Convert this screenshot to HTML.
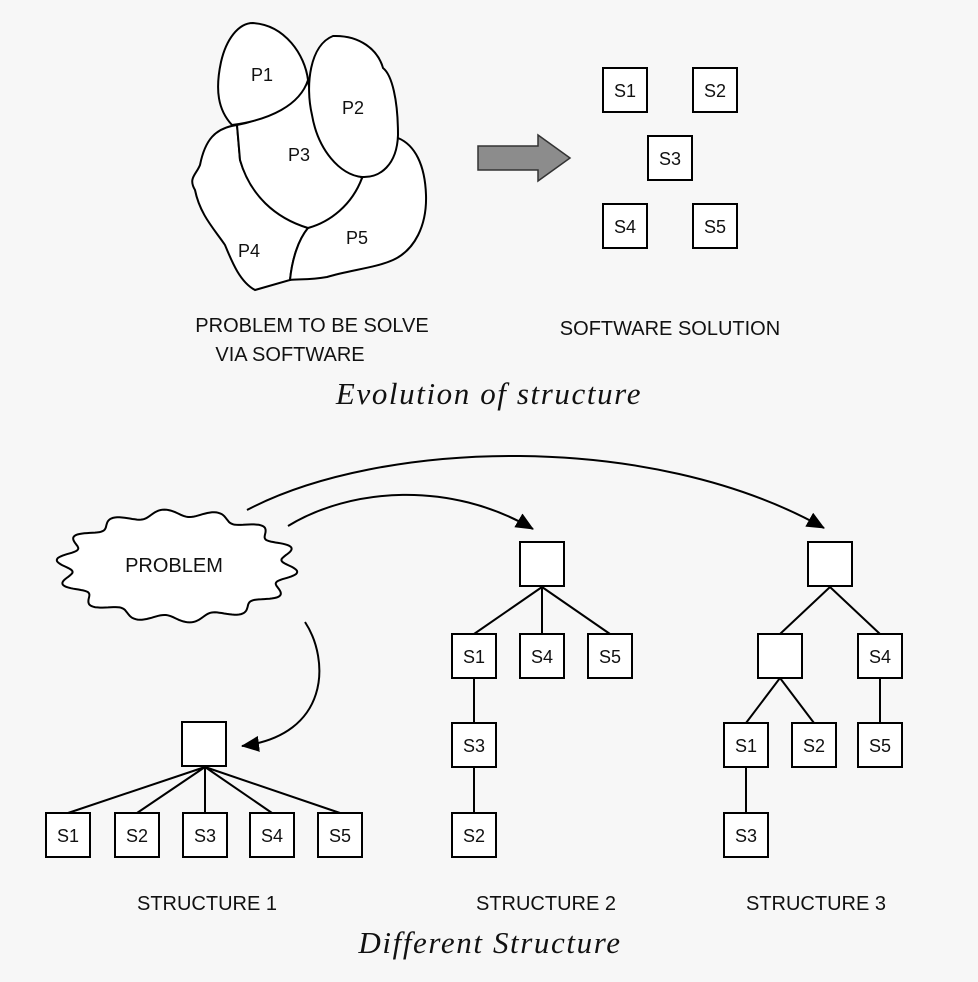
<!DOCTYPE html>
<html><head><meta charset="utf-8"><style>
body{margin:0;background:#f7f7f7;}
svg{display:block}
text{font-family:"Liberation Sans",sans-serif;font-size:18px;fill:#111}
.lb{font-size:20px}
.it{font-family:"Liberation Serif",serif;font-style:italic;font-size:31px;letter-spacing:1.6px}
</style></head><body>
<svg width="978" height="982" viewBox="0 0 978 982" xmlns="http://www.w3.org/2000/svg">
<defs>
<marker id="ah2" markerWidth="18" markerHeight="16" refX="17" refY="8" orient="auto" markerUnits="userSpaceOnUse"><path d="M0,0 L18,8 L0,16 z" fill="#000"/></marker></defs>
<g fill="#fff" stroke="#000" stroke-width="2">
<path d="M237,125 C215,128 205,140 200,165 C196,175 188,178 195,190 C200,215 215,230 225,245 C232,262 240,282 255,290 L290,280 C292,260 298,240 308,228 C280,218 250,195 240,160 Z"/>
<path d="M398,138 C415,145 425,165 426,195 C427,225 415,250 393,260 C375,268 350,270 327,277 C310,280 298,279 290,280 C292,260 298,240 308,228 C330,220 350,205 362,178 Z"/>
<path d="M237,125 C255,122 290,110 308,80 C312,110 325,150 362,178 C352,205 330,222 308,228 C275,218 250,195 240,160 Z"/>
<path d="M253,23 C285,25 305,55 308,80 C300,105 270,120 232,125 C218,110 215,90 221,62 C226,40 238,23 253,23 Z"/>
<path d="M333,36 C360,35 378,50 383,68 C392,75 398,100 398,135 C397,165 380,178 362,177 C340,175 318,150 312,115 C305,85 310,45 333,36 Z"/>
</g>
<g><text x="251" y="81">P1</text><text x="342" y="114">P2</text><text x="288" y="161">P3</text><text x="238" y="257">P4</text><text x="346" y="244">P5</text></g>
<path d="M478,146 L538,146 L538,135 L570,158 L538,181 L538,170 L478,170 Z" fill="#8c8c8c" stroke="#333" stroke-width="1.5"/>
<g fill="#fff" stroke="#000" stroke-width="2">
<rect x="603" y="68" width="44" height="44"/><rect x="693" y="68" width="44" height="44"/><rect x="648" y="136" width="44" height="44"/><rect x="603" y="204" width="44" height="44"/><rect x="693" y="204" width="44" height="44"/>
</g>
<g text-anchor="middle"><text x="625" y="97">S1</text><text x="715" y="97">S2</text><text x="670" y="165">S3</text><text x="625" y="233">S4</text><text x="715" y="233">S5</text>
<text class="lb" x="312" y="332">PROBLEM TO BE SOLVE</text><text class="lb" x="290" y="361">VIA SOFTWARE</text><text class="lb" x="670" y="335">SOFTWARE SOLUTION</text>
<text class="it" x="489" y="404">Evolution of structure</text>
<text class="lb" x="207" y="910">STRUCTURE 1</text><text class="lb" x="546" y="910">STRUCTURE 2</text><text class="lb" x="816" y="910">STRUCTURE 3</text>
<text class="it" x="490" y="953">Different Structure</text>
</g>
<path id="cloud" fill="#fff" stroke="#000" stroke-width="2" d=""/>
<script>
(function(){var cx=177,cy=566,rx=113,ry=53,n=14,d="";for(var i=0;i<=360;i++){var t=i/360*2*Math.PI;var w=1+0.07*Math.sin(n*t);var x=cx+rx*w*Math.cos(t),y=cy+ry*w*Math.sin(t);d+=(i?"L":"M")+x.toFixed(1)+","+y.toFixed(1);}document.getElementById("cloud").setAttribute("d",d+"Z");})();
</script>
<text class="lb" x="174" y="572" text-anchor="middle">PROBLEM</text>
<g fill="none" stroke="#000" stroke-width="2">
<path d="M247,510 C380,440 650,430 824,528" marker-end="url(#ah2)"/>
<path d="M288,526 C350,488 450,480 533,529" marker-end="url(#ah2)"/>
<path d="M305,622 C330,660 330,735 242,746" marker-end="url(#ah2)"/>
<path d="M205,767 L68,813 M205,767 L137,813 M205,767 L205,813 M205,767 L272,813 M205,767 L340,813"/>
<path d="M542,587 L474,634 M542,587 L542,634 M542,587 L610,634 M474,678 L474,723 M474,767 L474,813"/>
<path d="M830,587 L780,634 M830,587 L880,634 M780,678 L746,723 M780,678 L814,723 M880,678 L880,723 M746,767 L746,813"/>
</g>
<g fill="#fff" stroke="#000" stroke-width="2">
<rect x="182" y="722" width="44" height="44"/>
<rect x="46" y="813" width="44" height="44"/><rect x="115" y="813" width="44" height="44"/><rect x="183" y="813" width="44" height="44"/><rect x="250" y="813" width="44" height="44"/><rect x="318" y="813" width="44" height="44"/>
<rect x="520" y="542" width="44" height="44"/>
<rect x="452" y="634" width="44" height="44"/><rect x="520" y="634" width="44" height="44"/><rect x="588" y="634" width="44" height="44"/>
<rect x="452" y="723" width="44" height="44"/><rect x="452" y="813" width="44" height="44"/>
<rect x="808" y="542" width="44" height="44"/>
<rect x="758" y="634" width="44" height="44"/><rect x="858" y="634" width="44" height="44"/>
<rect x="724" y="723" width="44" height="44"/><rect x="792" y="723" width="44" height="44"/><rect x="858" y="723" width="44" height="44"/>
<rect x="724" y="813" width="44" height="44"/>
</g>
<g text-anchor="middle">
<text x="68" y="842">S1</text><text x="137" y="842">S2</text><text x="205" y="842">S3</text><text x="272" y="842">S4</text><text x="340" y="842">S5</text>
<text x="474" y="663">S1</text><text x="542" y="663">S4</text><text x="610" y="663">S5</text><text x="474" y="752">S3</text><text x="474" y="842">S2</text>
<text x="880" y="663">S4</text><text x="746" y="752">S1</text><text x="814" y="752">S2</text><text x="880" y="752">S5</text><text x="746" y="842">S3</text>
</g>
</svg>
</body></html>
